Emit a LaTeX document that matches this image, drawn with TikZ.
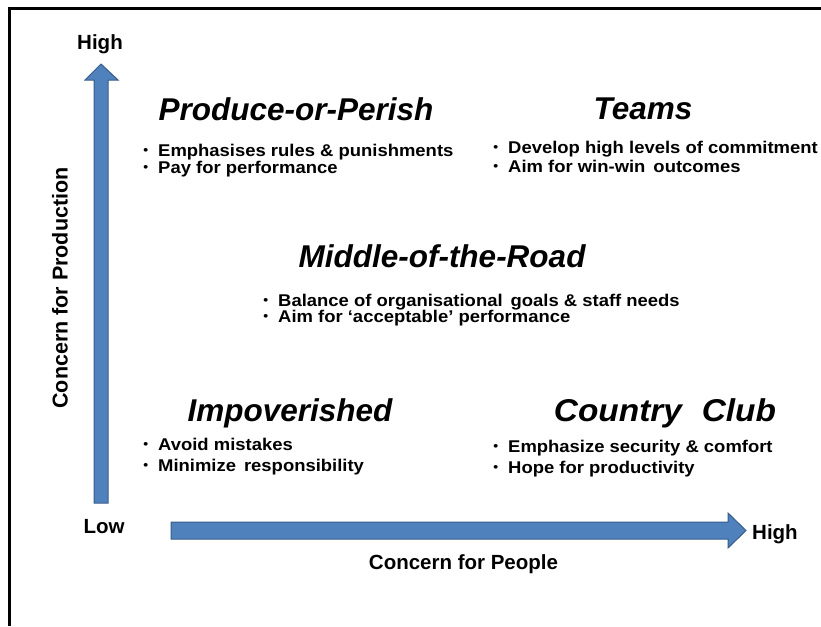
\documentclass[tikz,border=0pt]{standalone}
\usepackage{graphicx}
\usepackage{fontspec}
\setmainfont{Liberation Sans}
\newfontfamily\itemfont[FakeStretch=1.085]{Liberation Sans}
\definecolor{arrowfill}{HTML}{4F81BD}
\definecolor{arrowedge}{HTML}{385D8A}
\begin{document}
\begin{tikzpicture}[x=1pt,y=-1pt,
  title/.style={anchor=base, inner sep=0pt, font=\fontsize{31.5}{36}\selectfont\bfseries\itshape},
  bulletline/.style={anchor=base west, inner sep=0pt, font=\itemfont\fontsize{17}{19}\selectfont\bfseries},
  axislabel/.style={inner sep=0pt, font=\fontsize{20.5}{24}\selectfont\bfseries},
  bigarrow/.style={fill=arrowfill, draw=arrowedge, line width=1pt, line join=miter}]
\newcommand{\bul}{\llap{\raisebox{0.2ex}{\scalebox{0.75}{\textbullet}}\hspace{10pt}}}
\useasboundingbox (0,0) rectangle (821,626);
\fill[white] (0,0) rectangle (821,626);
% frame (left and top)
\draw[line width=2.2pt] (9.5,626) -- (9.5,8.5) -- (821,8.5);
% vertical arrow
\draw[bigarrow] (94,503) -- (108,503) -- (108,80) -- (118,80) -- (101,64) -- (85,80) -- (94,80) -- cycle;
% horizontal arrow
\draw[bigarrow] (171,522) -- (728,522) -- (728,513) -- (746,530.5) -- (728,548) -- (728,539) -- (171,539) -- cycle;
% axis labels
\node[axislabel, anchor=base] (yhigh) at (100,49) {High};
\node[axislabel, anchor=base] (ylow) at (104,533) {Low};
\node[axislabel, anchor=base west] (xhigh) at (752,539) {High};
\node[axislabel, rotate=90, font=\fontsize{21.5}{24}\selectfont\bfseries] (ylabel) at (60,288) {Concern for Production};
\node[axislabel, anchor=base] (xlabel) at (463.5,569) {Concern for People};
% titles
\node[title] (pp) at (296,120) {Produce-or-Perish};
\node[title] (teams) at (643,119) {Teams};
\node[title] (mr) at (442,267) {Middle-of-the-Road};
\node[title] (imp) at (290,421) {Impoverished};
\node[title] (cc) at (665,421) {\scalebox{1.06}[1]{Country\hspace{10pt} Club}};
% bullets
\node[bulletline] (pp1) at (158,156) {\bul Emphasises rules \& punishments};
\node[bulletline] (pp2) at (158,173) {\bul Pay for performance};
\node[bulletline] (t1) at (508,153.5) {\bul Develop high levels of commitment};
\node[bulletline] (t2) at (508,172.5) {\bul Aim for win-win\, outcomes};
\node[bulletline] (mr1) at (278,306) {\bul Balance of organisational\, goals \& staff needs};
\node[bulletline] (mr2) at (278,322.5) {\bul Aim for ‘acceptable’ performance};
\node[bulletline] (imp1) at (158,450.5) {\bul Avoid mistakes};
\node[bulletline] (imp2) at (158,471.5) {\bul Minimize\, responsibility};
\node[bulletline] (cc1) at (508,452.5) {\bul Emphasize security \& comfort};
\node[bulletline] (cc2) at (508,473.5) {\bul Hope for productivity};
\end{tikzpicture}
\end{document}
